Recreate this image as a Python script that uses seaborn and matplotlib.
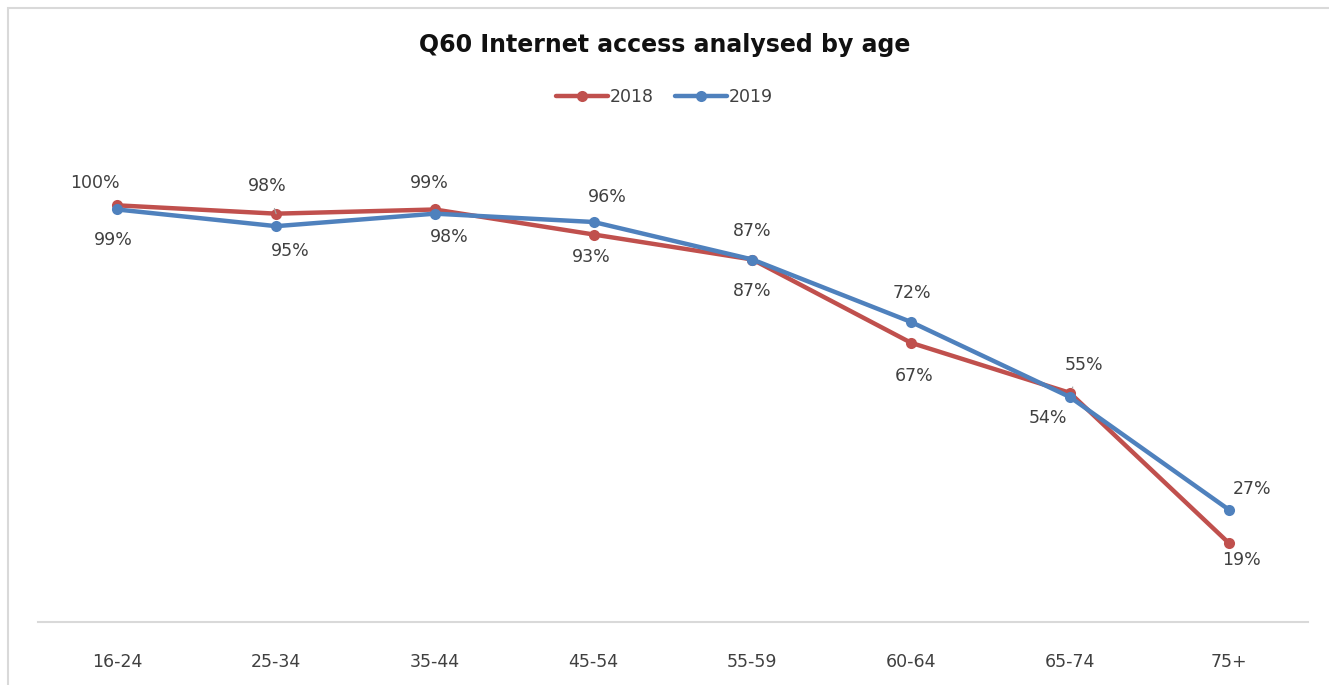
import matplotlib
matplotlib.use("Agg")
import matplotlib.pyplot as plt
import seaborn as sns
import pandas as pd
from matplotlib.patches import Rectangle

ages = ["16-24", "25-34", "35-44", "45-54", "55-59", "60-64", "65-74", "75+"]
values_2018 = [100, 98, 99, 93, 87, 67, 55, 19]
values_2019 = [99, 95, 98, 96, 87, 72, 54, 27]
years = ["2018", "2019"]

# label offsets in pixels (dx, dy) relative to each point; style only
off_2018 = [(-22, 22), (-9, 28), (-6, 26), (-2, -23), (0, -32), (3, -33), (14, 28), (13, -17)]
off_2019 = [(-4, -31), (14, -25), (14, -23), (14, 25), (0, 28), (1, 29), (-22, -21), (23, 20)]
leader_2018 = [False, True, False, False, False, False, True, False]

df = pd.DataFrame({
    "age": ages * 2,
    "value": values_2018 + values_2019,
    "year": [years[0]] * len(ages) + [years[1]] * len(ages),
})

sns.set_theme(style="white")
plt.rcParams["font.family"] = ["DejaVu Sans"]

fig = plt.figure(figsize=(13.29, 6.85), dpi=100)
ax = fig.add_axes([38 / 1329, 1 - 622 / 685, (1308 - 38) / 1329, (622 - 122) / 685])

palette = {"2018": "#C0504D", "2019": "#4F81BD"}
sns.lineplot(data=df, x="age", y="value", hue="year", palette=palette, sort=False,
             marker="o", markersize=8, markeredgewidth=0, linewidth=3.2, ax=ax,
             legend=True)

ax.set_xlim(-0.5, len(ages) - 0.5)
ax.set_ylim(0, 120)
ax.set_xlabel("")
ax.set_ylabel("")
ax.set_yticks([])
for s in ["top", "right", "left"]:
    ax.spines[s].set_visible(False)
ax.spines["bottom"].set_color("#D9D9D9")
ax.spines["bottom"].set_linewidth(1.5)
ax.tick_params(axis="x", length=0, pad=22, labelsize=12.5, colors="#404040")

txtcol = "#404040"
for vals, offs, leaders in [(values_2018, off_2018, leader_2018),
                            (values_2019, off_2019, [False] * len(ages))]:
    for i, (v, (dx, dy), ld) in enumerate(zip(vals, offs, leaders)):
        kw = {}
        if ld:
            kw["arrowprops"] = dict(arrowstyle="-", color="#A6A6A6", lw=0.9,
                                    shrinkA=8, shrinkB=4)
        ax.annotate(f"{v}%", xy=(i, v), xytext=(dx, dy), textcoords="offset pixels",
                    ha="center", va="center", fontsize=12.5, color=txtcol, **kw)

leg = ax.legend(loc="center", ncol=2, frameon=False, fontsize=12.5,
                handlelength=3.0, columnspacing=1.2, handletextpad=0.1)
for t in leg.get_texts():
    t.set_color(txtcol)
leg.set_bbox_to_anchor((0.5, 1 - 97 / 685), transform=fig.transFigure)

fig.text(0.5, 1 - 45 / 685, "Q60 Internet access analysed by age", ha="center",
         va="center", fontsize=17, fontweight="bold", color="#111111")

fig.patches.append(Rectangle((8 / 1329, -0.1), 1.2, 1 - 8 / 685 + 0.1,
                             transform=fig.transFigure, fill=False,
                             edgecolor="#D9D9D9", linewidth=1.5))

fig.savefig("out.png", dpi=100)
